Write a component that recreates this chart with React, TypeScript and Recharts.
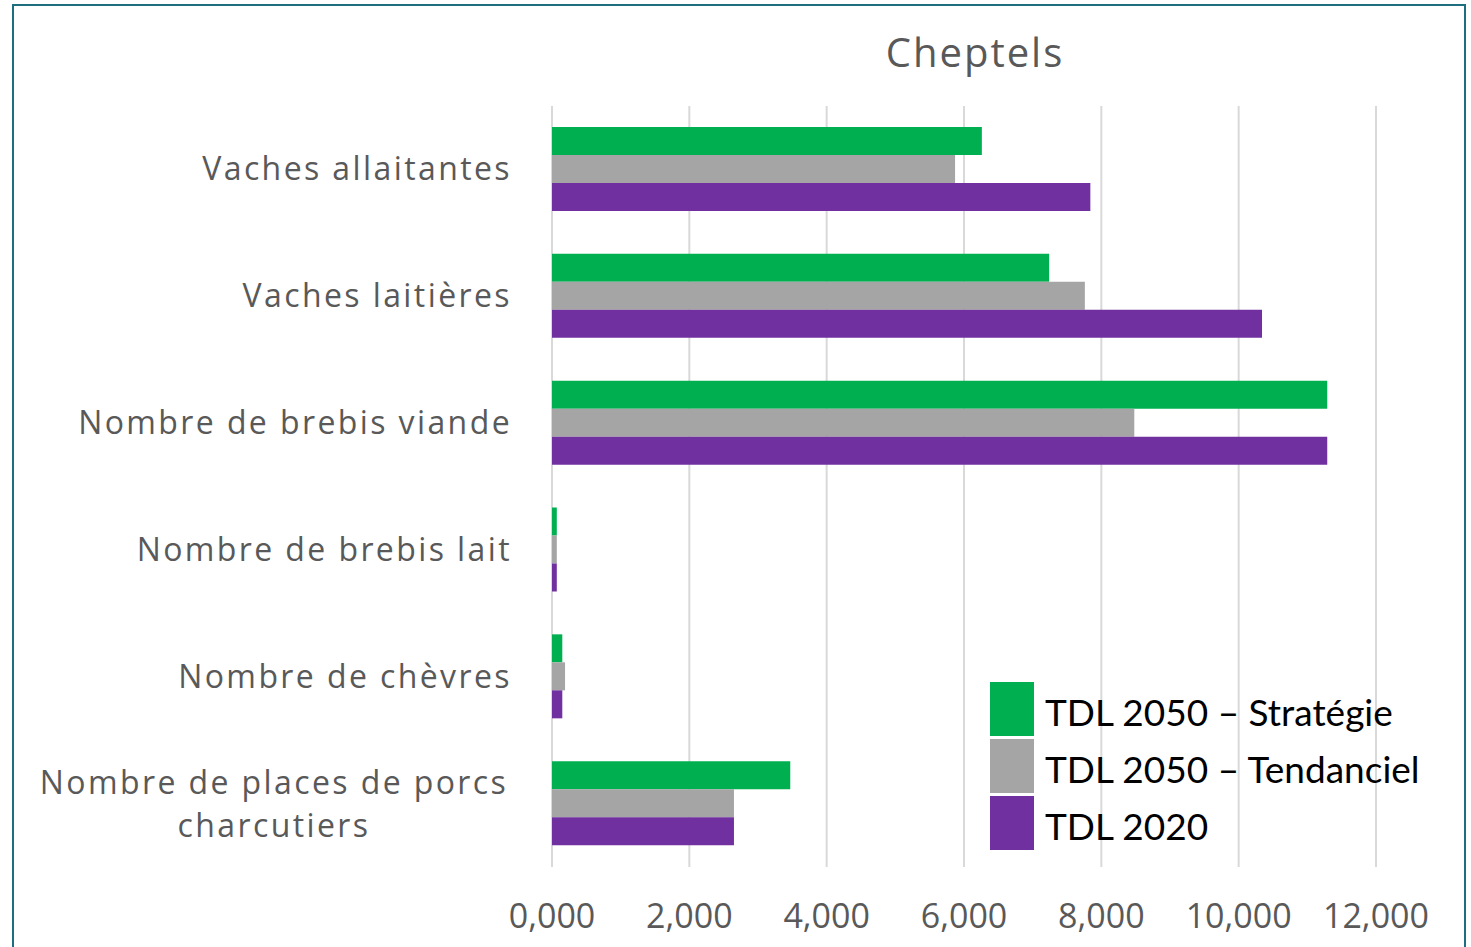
import { BarChart, Bar, XAxis, YAxis, CartesianGrid, Legend } from "recharts";

const categories = [
  "Vaches allaitantes",
  "Vaches laitières",
  "Nombre de brebis viande",
  "Nombre de brebis lait",
  "Nombre de chèvres",
  "Nombre de places de porcs charcutiers",
];
const strategie2050 = [6.26, 7.24, 11.29, 0.07, 0.15, 3.47];
const tendanciel2050 = [5.87, 7.76, 8.48, 0.07, 0.19, 2.65];
const tdl2020 = [7.84, 10.34, 11.29, 0.07, 0.15, 2.65];
const xTicks = [0, 2, 4, 6, 8, 10, 12];

const series = [
  { key: "strategie", name: "TDL 2050 – Stratégie", color: "#00b050" },
  { key: "tendanciel", name: "TDL 2050 – Tendanciel", color: "#a5a5a5" },
  { key: "tdl2020", name: "TDL 2020", color: "#7030a0" },
];

const data = categories.map((c, i) => ({
  name: c,
  strategie: strategie2050[i],
  tendanciel: tendanciel2050[i],
  tdl2020: tdl2020[i],
}));

const labelFont = "'Open Sans', 'DejaVu Sans', sans-serif";

const wrap = (s: string, max: number) => {
  const words = s.split(" ");
  const lines: string[] = [];
  let cur = "";
  words.forEach((w) => {
    const next = cur ? cur + " " + w : w;
    if (next.length > max && cur) {
      lines.push(cur);
      cur = w;
    } else cur = next;
  });
  if (cur) lines.push(cur);
  return lines;
};

const CategoryTick = ({ x, y, payload }: any) => {
  const lines = wrap(payload.value, 26);
  if (lines.length === 1) {
    return (
      <text x={x - 32} y={y} dy={11} textAnchor="end" fill="#595959"
        fontSize={32} fontFamily={labelFont} letterSpacing={2.4}>
        {payload.value}
      </text>
    );
  }
  return (
    <text x={274} y={y} textAnchor="middle" fill="#595959"
      fontSize={32} fontFamily={labelFont} letterSpacing={2.4}>
      {lines.map((l, i) => (
        <tspan key={i} x={274} dy={i === 0 ? -10 : 43}>{l}</tspan>
      ))}
    </text>
  );
};

const ValueTick = ({ x, y, payload }: any) => (
  <text x={x} y={y} dy={53} textAnchor="middle" fill="#595959"
    fontSize={34} fontFamily={labelFont}>
    {payload.value.toFixed(3).replace(".", ",")}
  </text>
);

const LegendBox = () => (
  <div>
    {series.map((s) => (
      <div key={s.key} style={{ display: "flex", alignItems: "center", height: 57 }}>
        <div style={{ width: 44, height: 54, background: s.color, marginRight: 11 }} />
        <span style={{ fontFamily: "Lato, 'Open Sans', sans-serif", fontSize: 37, color: "#000", paddingTop: 6 }}>
          {s.name}
        </span>
      </div>
    ))}
  </div>
);

export default function App() {
  return (
    <div style={{ position: "absolute", left: 0, top: 0, width: 1471, height: 947, background: "#fff", overflow: "hidden" }}>
      <div style={{ position: "absolute", left: 12, top: 4, width: 1454, height: 960, border: "2px solid #1d6e7f", boxSizing: "border-box" }} />
      <div style={{ position: "absolute", left: 0, width: 1950, top: 24, textAlign: "center", fontFamily: labelFont, fontSize: 40, color: "#595959", letterSpacing: 2 }}>
        Cheptels
      </div>
      <BarChart
        width={1471}
        height={947}
        data={data}
        layout="vertical"
        margin={{ top: 106, right: 95, bottom: 10, left: 12 }}
        barGap={0}
        barCategoryGap={21}
      >
        <CartesianGrid horizontal={false} stroke="#d9d9d9" strokeWidth={2} />
        <XAxis type="number" domain={[0, 12]} ticks={xTicks} axisLine={false} tickLine={false}
          height={70} tick={<ValueTick />} />
        <YAxis type="category" dataKey="name" width={540} axisLine={false} tickLine={false}
          tick={<CategoryTick />} interval={0} />
        {series.map((s) => (
          <Bar key={s.key} dataKey={s.key} name={s.name} fill={s.color} isAnimationActive={false} />
        ))}
        <Legend layout="vertical" align="center" verticalAlign="middle" content={<LegendBox />}
          wrapperStyle={{ position: "absolute", left: 990, top: 680, width: 470, bottom: "auto", right: "auto" }} />
      </BarChart>
    </div>
  );
}
